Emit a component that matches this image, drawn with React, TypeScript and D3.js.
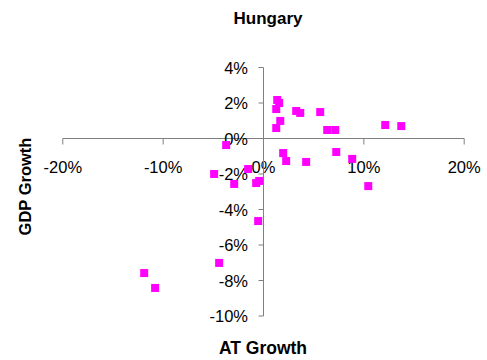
import React from "react";
import * as d3 from "d3";

const atGrowth = [1.37, 1.56, 1.27, 1.67, 1.27, 3.26, 3.66, 5.65, 6.35, 7.15, 12.13, 13.73, -3.72, 1.96, 2.26, 4.25, 7.25, 8.84, 10.44, -4.92, -2.92, -1.53, -0.73, -0.43, -0.53, -11.89, -10.8, -4.42];
const gdpGrowth = [2.17, 2.0, 1.66, 0.99, 0.59, 1.55, 1.44, 1.49, 0.48, 0.48, 0.76, 0.7, -0.37, -0.82, -1.27, -1.32, -0.76, -1.15, -2.68, -2.0, -2.56, -1.72, -2.51, -2.39, -4.65, -7.58, -8.42, -7.01];
const xTicks = [-20, -10, 0, 10, 20];
const yTicks = [4, 2, 0, -2, -4, -6, -8, -10];

const W = 487;
const H = 360;

export default function App() {
  const x = d3.scaleLinear().domain([-20, 20]).range([62.8, 464.2]);
  const y = d3.scaleLinear().domain([-10, 4]).range([316, 67.5]);
  const x0 = x(0);
  const y0 = y(0);
  const axisColor = "#808080";
  const font = "'Liberation Sans', Arial, sans-serif";
  const ms = 8;
  return (
    <svg width={W} height={H} style={{ position: "absolute", left: 0, top: 0, background: "#fff" }} fontFamily={font}>
      <text x={268} y={23.5} textAnchor="middle" fontSize={17} fontWeight="bold">Hungary</text>
      {/* x axis */}
      <line x1={x(-20)} x2={x(20)} y1={y0} y2={y0} stroke={axisColor} strokeWidth={1} />
      {xTicks.map((t) => (
        <g key={"xt" + t}>
          <line x1={x(t)} x2={x(t)} y1={y0} y2={y0 + 6} stroke={axisColor} />
          <text x={x(t)} y={y0 + 34.5} textAnchor="middle" fontSize={16.5} fill="#000">{t + "%"}</text>
        </g>
      ))}
      {/* y axis */}
      <line x1={x0} x2={x0} y1={y(4)} y2={y(-10)} stroke={axisColor} strokeWidth={1} />
      {yTicks.map((t) => (
        <g key={"yt" + t}>
          <line x1={x0 - 5} x2={x0} y1={y(t)} y2={y(t)} stroke={axisColor} />
          <text x={x0 - 15.5} y={y(t) + 6} textAnchor="end" fontSize={16.5} fill="#000">{t + "%"}</text>
        </g>
      ))}
      {atGrowth.map((v, i) => (
        <rect key={"p" + i} x={x(v) - ms / 2} y={y(gdpGrowth[i]) - ms / 2} width={ms} height={ms} fill="#FF00FF" />
      ))}
      <text x={263} y={354} textAnchor="middle" fontSize={17.5} fontWeight="bold">AT Growth</text>
      <text transform={`translate(30.5,186.5) rotate(-90)`} textAnchor="middle" fontSize={16.5} fontWeight="bold">GDP Growth</text>
    </svg>
  );
}
